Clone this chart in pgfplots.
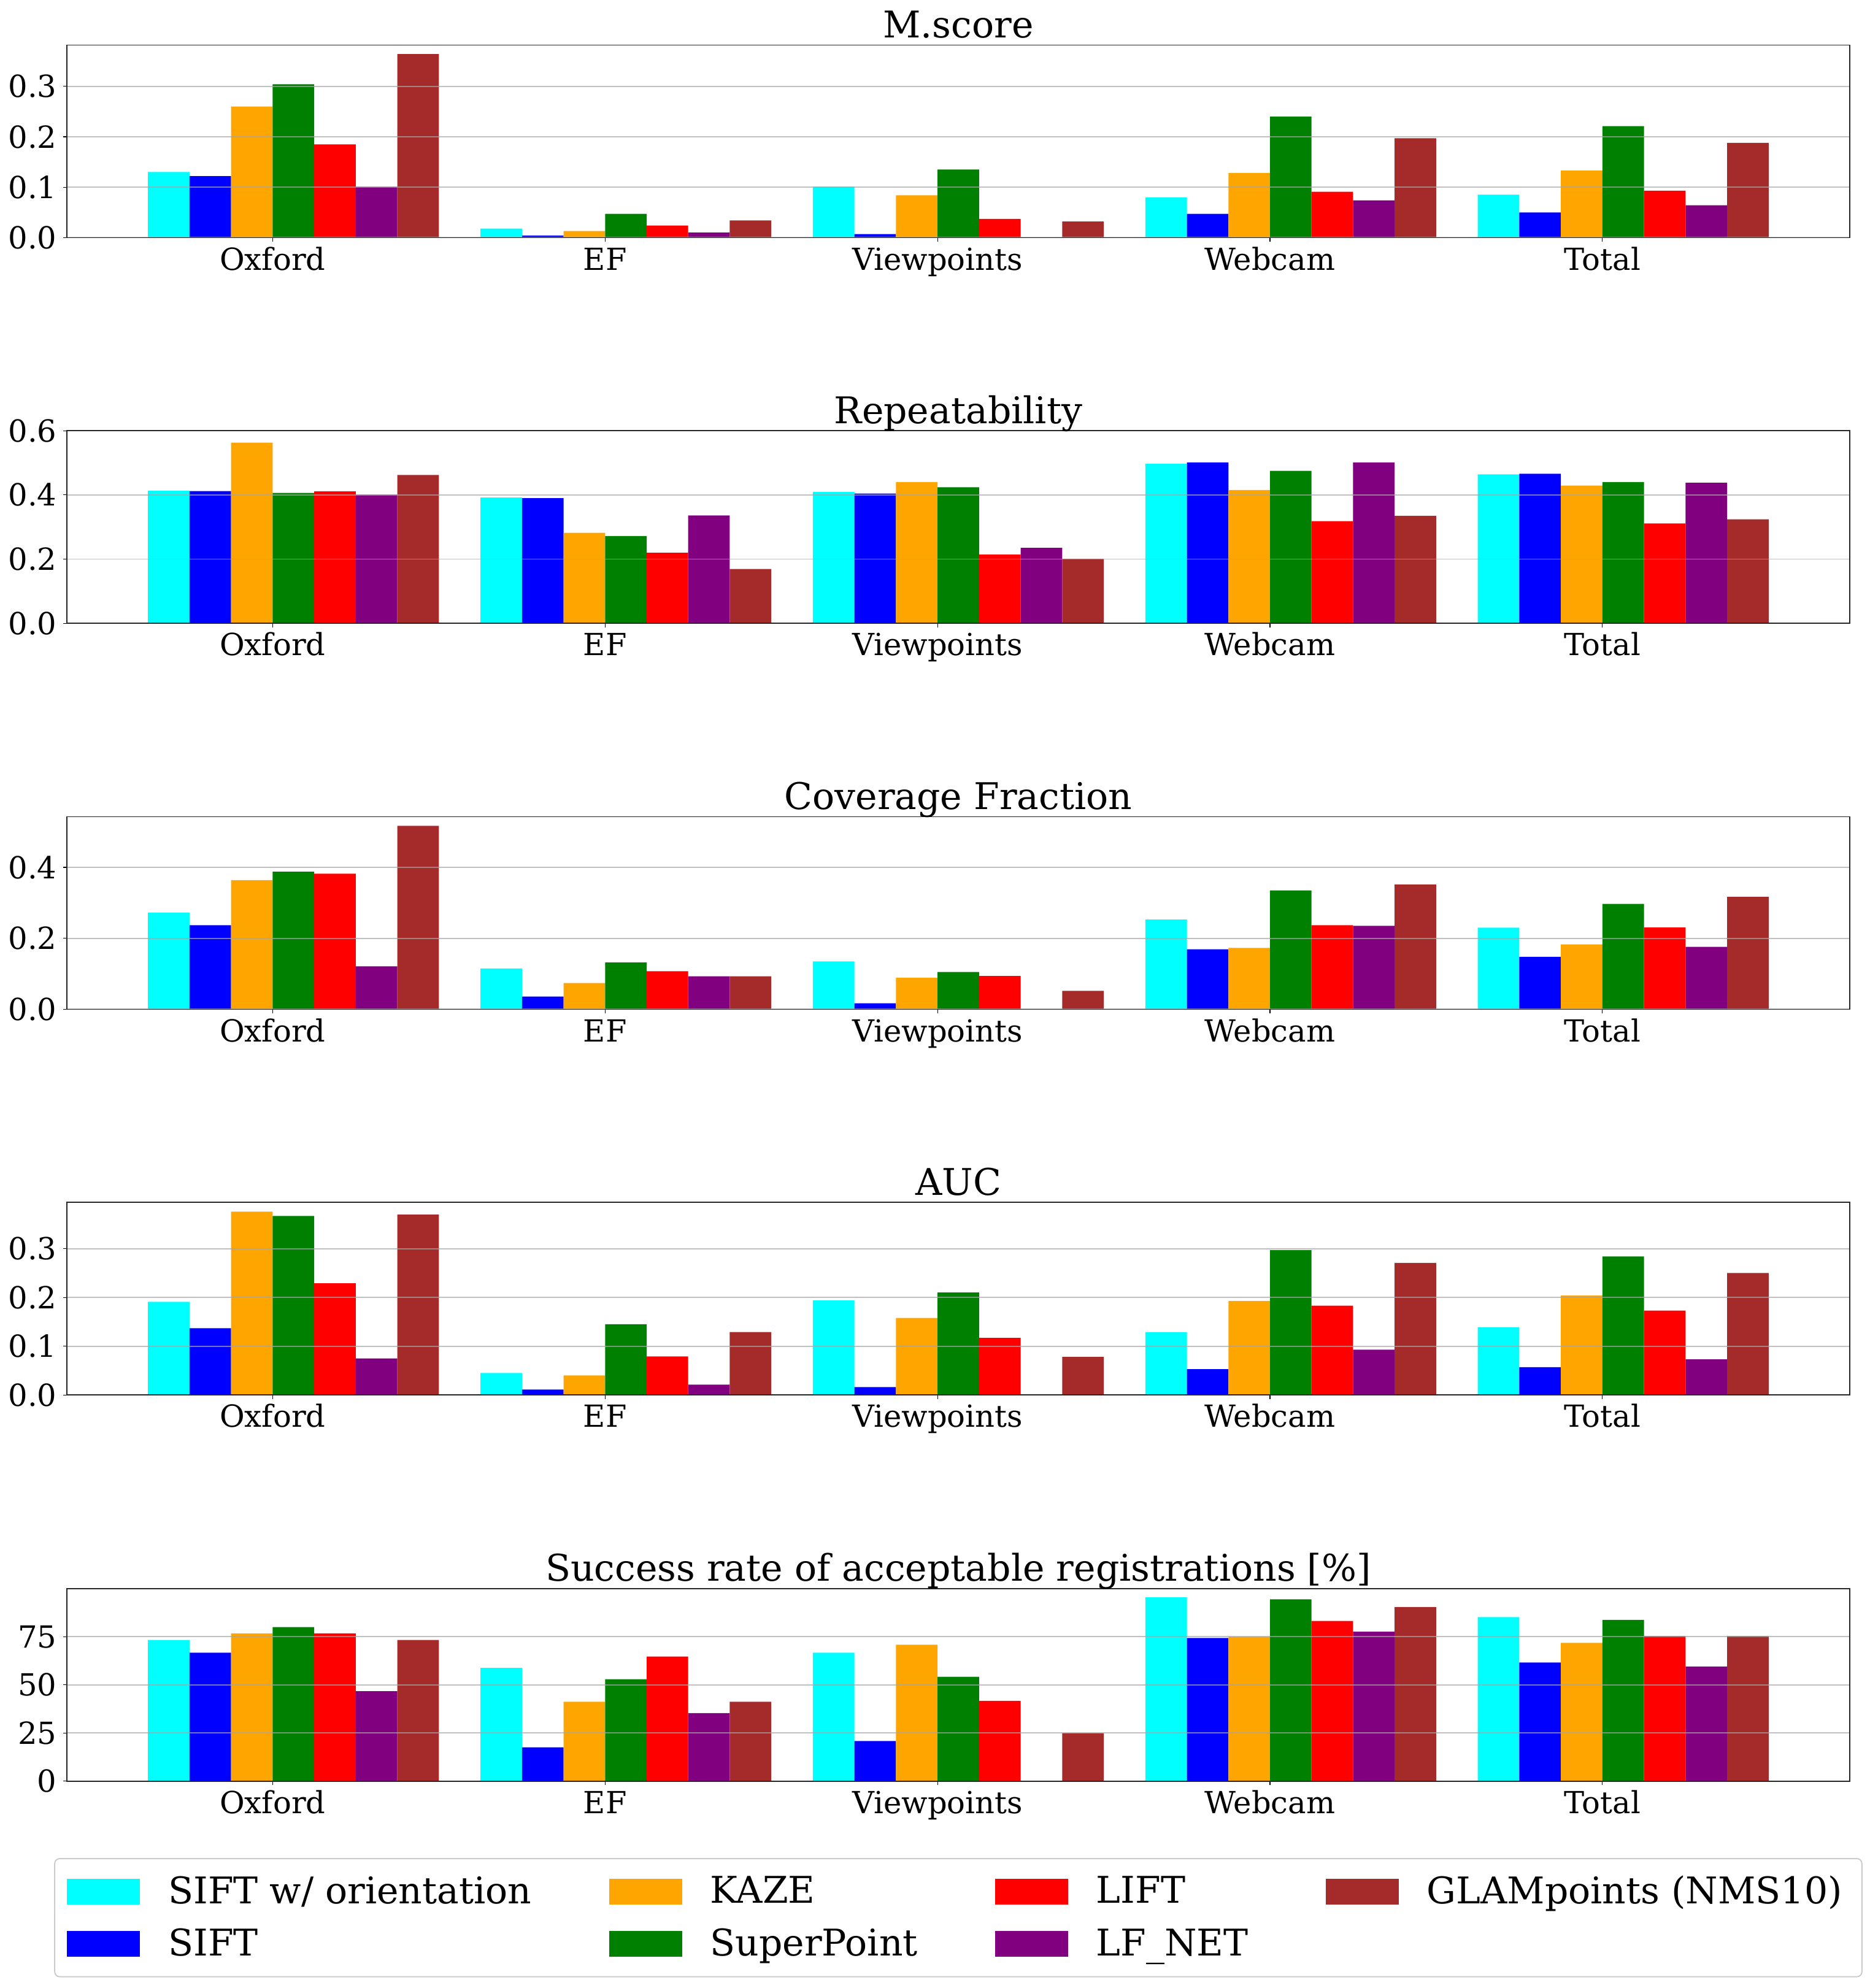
\documentclass[border=0pt]{standalone}
\usepackage{fontspec}
\setmainfont{DejaVu Serif}
\usepackage{pgfplots}
\usepackage{pgfplotstable}
\pgfplotsset{compat=1.18}

\definecolor{cCyan}{RGB}{0,255,255}
\definecolor{cBlue}{RGB}{0,0,255}
\definecolor{cOrange}{RGB}{255,165,0}
\definecolor{cGreen}{RGB}{0,128,0}
\definecolor{cRed}{RGB}{255,0,0}
\definecolor{cPurple}{RGB}{128,0,128}
\definecolor{cBrown}{RGB}{165,42,42}

% columns: SIFT w/ orientation, SIFT, KAZE, SuperPoint, LIFT, LF_NET, GLAMpoints
\pgfplotstableread{
x sifto sift kaze sp lift lfnet glam
0 0.130 0.122 0.260 0.304 0.185 0.101 0.364
1 0.018 0.004 0.013 0.047 0.024 0.010 0.034
2 0.101 0.007 0.084 0.135 0.037 0.000 0.032
3 0.080 0.047 0.128 0.240 0.091 0.074 0.197
4 0.085 0.050 0.133 0.221 0.093 0.064 0.188
}\mscore

\pgfplotstableread{
x sifto sift kaze sp lift lfnet glam
0 0.413 0.412 0.563 0.406 0.411 0.401 0.462
1 0.392 0.390 0.282 0.272 0.220 0.336 0.169
2 0.409 0.404 0.440 0.424 0.214 0.235 0.201
3 0.497 0.501 0.415 0.475 0.318 0.501 0.335
4 0.464 0.466 0.429 0.440 0.311 0.438 0.324
}\repeatab

\pgfplotstableread{
x sifto sift kaze sp lift lfnet glam
0 0.273 0.237 0.364 0.388 0.382 0.121 0.517
1 0.115 0.036 0.074 0.132 0.107 0.093 0.093
2 0.135 0.017 0.089 0.105 0.094 0.000 0.052
3 0.253 0.169 0.173 0.335 0.237 0.235 0.352
4 0.230 0.148 0.183 0.297 0.231 0.176 0.317
}\coverage

\pgfplotstableread{
x sifto sift kaze sp lift lfnet glam
0 0.191 0.137 0.376 0.367 0.229 0.075 0.370
1 0.045 0.011 0.040 0.145 0.079 0.021 0.129
2 0.194 0.016 0.158 0.210 0.117 0.000 0.078
3 0.129 0.053 0.193 0.297 0.183 0.093 0.271
4 0.139 0.057 0.204 0.284 0.173 0.073 0.250
}\auc

\pgfplotstableread{
x sifto sift kaze sp lift lfnet glam
0 73.3 66.7 76.7 80.0 76.7 46.7 73.3
1 58.8 17.6 41.2 52.9 64.7 35.3 41.2
2 66.7 20.8 70.8 54.2 41.7 0.0 25.0
3 95.4 74.3 75.0 94.4 83.2 77.6 90.4
4 85.2 61.6 71.8 83.7 75.4 59.5 75.4
}\success

\pgfplotsset{
  panel/.style={
    anchor=south west,
    width=726.5pt, height=78.5pt, scale only axis,
    xmin=-0.619, xmax=4.744, ymin=0,
    ybar, bar width=0.125,
    xtick={0,1,2,3,4},
    xticklabels={Oxford,EF,Viewpoints,Webcam,Total},
    tick pos=left, tick align=outside,
    major tick length=1.6pt,
    tick style={line width=0.3pt, black},
    axis line style={line width=0.4pt, black!85},
    ymajorgrids,
    grid style={draw=black!35, opacity=0.7, line width=0.45pt},
    axis on top,
    /pgf/number format/assume math mode=true,
    tick label style={font=\fontsize{12.4}{14}\selectfont},
    x tick label style={anchor=base, yshift=-11.6pt},
    y tick label style={xshift=1pt},
    every axis title shift=0pt,
    title style={font=\fontsize{15}{18}\selectfont, at={(0.5,1)}, anchor=base, yshift=3pt},
  },
  onedec/.style={yticklabel style={/pgf/number format/.cd, fixed, fixed zerofill, precision=1}},
  sqlegend/.style={legend image code/.code={\fill[##1, draw=none, sharp corners] (0pt,-5.25pt) rectangle (29.75pt,5.25pt);}},
}

\newcommand{\drawbars}[1]{%
  \addplot[fill=cCyan,   draw=none, bar shift=-0.3125, forget plot] table[x=x, y=sifto]{#1};
  \addplot[fill=cBlue,   draw=none, bar shift=-0.1875, forget plot] table[x=x, y=sift]{#1};
  \addplot[fill=cOrange, draw=none, bar shift=-0.0625, forget plot] table[x=x, y=kaze]{#1};
  \addplot[fill=cGreen,  draw=none, bar shift=0.0625,  forget plot] table[x=x, y=sp]{#1};
  \addplot[fill=cRed,    draw=none, bar shift=0.1875,  forget plot] table[x=x, y=lift]{#1};
  \addplot[fill=cPurple, draw=none, bar shift=0.3125,  forget plot] table[x=x, y=lfnet]{#1};
  \addplot[fill=cBrown,  draw=none, bar shift=0.4375,  forget plot] table[x=x, y=glam]{#1};
}

\begin{document}
\begin{tikzpicture}
\path[use as bounding box] (0,0) rectangle (762pt,810.25pt);

\begin{axis}[panel, onedec, at={(27.25pt,713.4pt)}, title={M.score},
  ymax=0.382, ytick={0,0.1,0.2,0.3}]
  \drawbars{\mscore}
\end{axis}

\begin{axis}[panel, onedec, at={(27.25pt,556.2pt)}, title={Repeatability},
  ymax=0.6, ytick={0,0.2,0.4,0.6}]
  \drawbars{\repeatab}
\end{axis}

\begin{axis}[panel, onedec, at={(27.25pt,398.9pt)}, title={Coverage Fraction},
  ymax=0.543, ytick={0,0.2,0.4}]
  \drawbars{\coverage}
\end{axis}

\begin{axis}[panel, onedec, at={(27.25pt,241.7pt)}, title={AUC},
  ymax=0.395, ytick={0,0.1,0.2,0.3}]
  \drawbars{\auc}
\end{axis}

\begin{axis}[panel, at={(27.25pt,84.3pt)},
  title={Success rate of acceptable registrations [\%]},
  ymax=100, ytick={0,25,50,75},
  legend columns=4,
  legend cell align=left,
  legend style={
    at={(0.5,-0.399)}, anchor=north,
    draw=black!20, line width=0.5pt, rounded corners=2pt,
    font=\fontsize{15}{18}\selectfont,
    inner xsep=5pt, inner ysep=4pt,
    nodes={inner sep=3pt},
    row sep=2.6pt,
    /tikz/every odd column/.append style={column sep=8.5pt},
    /tikz/every even column/.append style={column sep=28.5pt},
  }]
  \drawbars{\success}
  \addlegendimage{sqlegend, fill=cCyan}
  \addlegendentry{SIFT w/ orientation}
  \addlegendimage{sqlegend, fill=cOrange}
  \addlegendentry{KAZE}
  \addlegendimage{sqlegend, fill=cRed}
  \addlegendentry{LIFT}
  \addlegendimage{sqlegend, fill=cBrown}
  \addlegendentry{GLAMpoints (NMS10)}
  \addlegendimage{sqlegend, fill=cBlue}
  \addlegendentry{SIFT}
  \addlegendimage{sqlegend, fill=cGreen}
  \addlegendentry{SuperPoint}
  \addlegendimage{sqlegend, fill=cPurple}
  \addlegendentry{LF\_NET}
\end{axis}
\end{tikzpicture}
\end{document}
